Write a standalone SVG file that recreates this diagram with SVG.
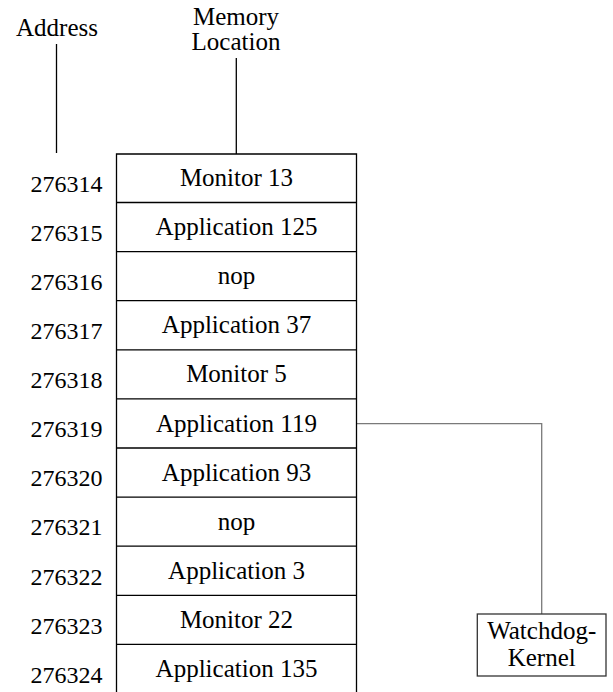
<svg xmlns="http://www.w3.org/2000/svg" width="613" height="692" viewBox="0 0 613 692" font-family="'Liberation Serif', 'Times New Roman', 'DejaVu Serif', serif">
<style>
  text { font-family: 'Liberation Serif', 'Times New Roman', 'DejaVu Serif', serif; fill: #000; }
  .lbl { font-size: 25px; text-anchor: middle; }
  .addr { font-size: 24px; text-anchor: end; }
  .edge { fill: none; stroke: #000; stroke-width: 1.3; }
  .conn { fill: none; stroke: #7a7a7a; stroke-width: 1.3; }
</style>
<rect width="613" height="692" fill="#fff"/>

<g id="headers">
  <text class="lbl" x="57" y="36">Address</text>
  <text class="lbl" x="236" y="25">Memory</text>
  <text class="lbl" x="236" y="49.5">Location</text>
</g>

<g id="connectors">
  <line class="edge" x1="56.5" y1="44" x2="56.5" y2="153"/>
  <line class="edge" x1="236.3" y1="58" x2="236.3" y2="154"/>
  <polyline class="conn" points="356.5,423.7 541.7,423.7 541.7,614"/>
</g>

<g id="memory">
  <path class="edge" d="M116.5,692 V154 H356.5 V692"/>
  <g id="row0"><line class="edge" x1="116.5" y1="202.5" x2="356.5" y2="202.5"/><text class="lbl" x="236.5" y="186">Monitor 13</text><text class="addr" x="102.5" y="191.7">276314</text></g>
  <g id="row1"><line class="edge" x1="116.5" y1="251.6" x2="356.5" y2="251.6"/><text class="lbl" x="236.5" y="235.1">Application 125</text><text class="addr" x="102.5" y="240.8">276315</text></g>
  <g id="row2"><line class="edge" x1="116.5" y1="300.7" x2="356.5" y2="300.7"/><text class="lbl" x="236.5" y="284.2">nop</text><text class="addr" x="102.5" y="289.9">276316</text></g>
  <g id="row3"><line class="edge" x1="116.5" y1="349.8" x2="356.5" y2="349.8"/><text class="lbl" x="236.5" y="333.3">Application 37</text><text class="addr" x="102.5" y="339">276317</text></g>
  <g id="row4"><line class="edge" x1="116.5" y1="398.9" x2="356.5" y2="398.9"/><text class="lbl" x="236.5" y="382.4">Monitor 5</text><text class="addr" x="102.5" y="388.1">276318</text></g>
  <g id="row5"><line class="edge" x1="116.5" y1="448" x2="356.5" y2="448"/><text class="lbl" x="236.5" y="431.5">Application 119</text><text class="addr" x="102.5" y="437.2">276319</text></g>
  <g id="row6"><line class="edge" x1="116.5" y1="497.1" x2="356.5" y2="497.1"/><text class="lbl" x="236.5" y="480.6">Application 93</text><text class="addr" x="102.5" y="486.3">276320</text></g>
  <g id="row7"><line class="edge" x1="116.5" y1="546.2" x2="356.5" y2="546.2"/><text class="lbl" x="236.5" y="529.7">nop</text><text class="addr" x="102.5" y="535.4">276321</text></g>
  <g id="row8"><line class="edge" x1="116.5" y1="595.3" x2="356.5" y2="595.3"/><text class="lbl" x="236.5" y="578.8">Application 3</text><text class="addr" x="102.5" y="584.5">276322</text></g>
  <g id="row9"><line class="edge" x1="116.5" y1="644.4" x2="356.5" y2="644.4"/><text class="lbl" x="236.5" y="627.9">Monitor 22</text><text class="addr" x="102.5" y="633.6">276323</text></g>
  <g id="row10"><text class="lbl" x="236.5" y="677">Application 135</text><text class="addr" x="102.5" y="682.7">276324</text></g>
</g>

<g id="watchdog">
  <rect x="477.3" y="614" width="128.7" height="62" fill="#fff" stroke="#333" stroke-width="1.3"/>
  <text class="lbl" x="541.7" y="638.5">Watchdog-</text>
  <text class="lbl" x="541.7" y="665.5">Kernel</text>
</g>
</svg>
